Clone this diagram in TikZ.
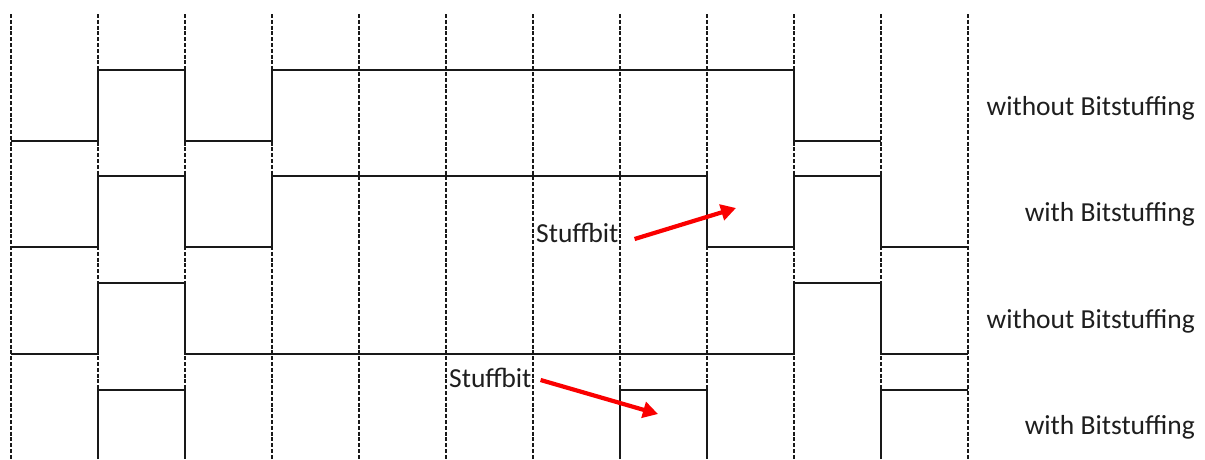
\documentclass[tikz,border=0pt]{standalone}
\usepackage{fontspec}
\setmainfont{Carlito}
\usetikzlibrary{arrows.meta}
\definecolor{arrred}{RGB}{250,0,0}
\definecolor{txt}{RGB}{30,30,30}
\tikzset{
  grid/.style={black!90, line width=1.2pt, dash pattern=on 4pt off 1.8pt},
  sig/.style={black!90, line width=1.6pt, line join=miter},
  lab/.style={text=txt, font=\fontsize{27.5}{31}\selectfont, inner sep=0pt},
  stuff/.style={lab, fill=white},
  redarrow/.style={arrred, line width=4.2pt, -{Triangle[length=15pt,width=16pt]}}
}
\begin{document}
\begin{tikzpicture}[x=1pt,y=-1pt]
\useasboundingbox (0,0) rectangle (1205,459);
% dashed bit boundaries
\foreach \k in {0,...,11}{
  \draw[grid] (11+87*\k,14) -- (11+87*\k,459);
}
% row 1: without bitstuffing
\draw[sig] (11,141) -- (98,141) -- (98,70) -- (185,70) -- (185,141) -- (272,141) -- (272,70) -- (794,70) -- (794,141) -- (881,141);
% row 2: with bitstuffing
\draw[sig] (11,247) -- (98,247) -- (98,176) -- (185,176) -- (185,247) -- (272,247) -- (272,176) -- (707,176) -- (707,247) -- (794,247) -- (794,176) -- (881,176) -- (881,247) -- (968,247);
% row 3: without bitstuffing
\draw[sig] (11,354) -- (98,354) -- (98,283) -- (185,283) -- (185,354) -- (794,354) -- (794,283) -- (881,283) -- (881,354) -- (968,354);
% row 4: with bitstuffing
\draw[sig] (98,459) -- (98,390) -- (185,390) -- (185,459);
\draw[sig] (620,459) -- (620,390) -- (707,390) -- (707,459);
\draw[sig] (881,459) -- (881,390) -- (968,390);
% labels
\node[lab, anchor=east] (l1) at (1195,108) {without Bitstuffing};
\node[lab, anchor=east] (l2) at (1195,214) {with Bitstuffing};
\node[lab, anchor=east] (l3) at (1195,321) {without Bitstuffing};
\node[lab, anchor=east] (l4) at (1195,427) {with Bitstuffing};
\node[stuff, anchor=west] (s1) at (536,233) {Stuffbit};
\node[stuff, anchor=west] (s2) at (449,378) {Stuffbit};
% arrows
\coordinate (t1) at (736,208);
\coordinate (t2) at (658,414);
\draw[redarrow] ([xshift=16pt,yshift=-6pt]s1.east) -- (t1);
\draw[redarrow] ([xshift=9pt,yshift=-2pt]s2.east) -- (t2);
\end{tikzpicture}
\end{document}
